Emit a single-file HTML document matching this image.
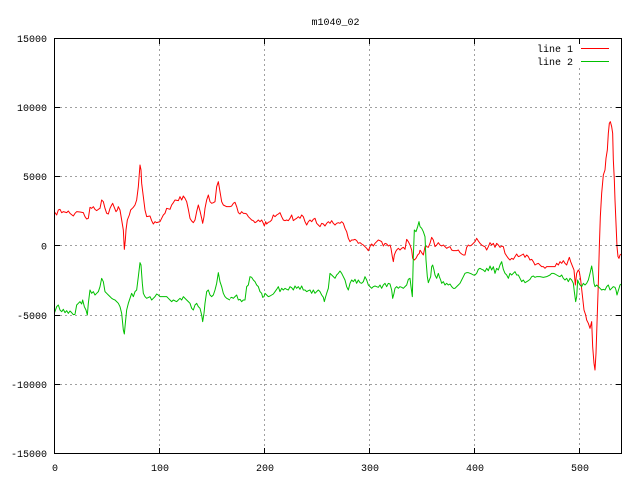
<!DOCTYPE html>
<html><head><meta charset="utf-8"><style>
html,body{margin:0;padding:0;background:#fff;}
svg{display:block;}
text{font-family:"Liberation Mono",monospace;font-size:10px;fill:#000;}
</style></head><body>
<svg width="640" height="480" viewBox="0 0 640 480" xmlns="http://www.w3.org/2000/svg">
<rect x="0" y="0" width="640" height="480" fill="#fff"/>
<text x="335.5" y="25" text-anchor="middle">m1040_02</text>
<!-- grid -->
<g stroke="#a0a0a0" stroke-width="1" stroke-dasharray="2,3" fill="none">
<line x1="159.5" y1="39" x2="159.5" y2="453"/>
<line x1="264.5" y1="39" x2="264.5" y2="453"/>
<line x1="369.5" y1="39" x2="369.5" y2="453"/>
<line x1="474.5" y1="39" x2="474.5" y2="453"/>
<line x1="579.5" y1="68" x2="579.5" y2="453"/>
<line x1="55" y1="107.5" x2="621" y2="107.5"/>
<line x1="55" y1="176.5" x2="621" y2="176.5"/>
<line x1="55" y1="245.5" x2="621" y2="245.5"/>
<line x1="55" y1="315.5" x2="621" y2="315.5"/>
<line x1="55" y1="384.5" x2="621" y2="384.5"/>
</g>
<!-- series -->
<g fill="none" stroke-width="1" stroke-linejoin="round">
<g transform="translate(40,150) scale(0.33333)">
<polyline vector-effect="non-scaling-stroke" stroke="#ff0000" points="43,185 50,195 55,180 60,178 65,188 70,185 80,188 85,183 90,190 100,198 105,190 110,185 120,186 130,188 135,200 140,207 145,205 150,172 155,175 160,170 165,178 170,182 175,178 180,175 185,150 190,155 195,175 200,190 205,192 210,175 215,165 218,160 222,170 228,185 232,180 235,170 240,180 245,210 250,240 253,298 256,270 258,240 262,210 268,195 272,180 280,172 285,165 290,150 295,110 300,45 303,60 305,100 310,140 315,180 320,200 330,198 335,212 340,222 345,215 350,218 360,215 365,205 370,195 375,190 380,175 390,178 395,165 400,158 405,150 415,152 420,140 425,150 430,138 435,145 440,155 445,178 450,205 455,213 460,218 465,210 470,185 475,165 480,183 485,205 488,220 492,200 495,175 500,150 505,135 510,155 515,160 520,158 525,155 530,110 535,95 540,125 545,155 550,165 560,170 570,170"/>
<polyline vector-effect="non-scaling-stroke" stroke="#00c000" points="43,490 50,470 55,465 60,480 65,485 70,478 75,488 80,482 85,490 90,483 95,488 100,494 105,493 110,465 115,460 120,455 125,462 128,450 133,470 138,480 142,495 145,460 150,420 155,430 160,425 165,435 170,430 175,425 180,410 185,385 190,395 195,425 200,430 205,435 210,440 215,445 220,448 225,450 230,455 235,460 240,470 245,490 250,540 253,552 256,520 260,480 265,460 270,445 275,430 280,440 285,425 290,420 295,380 300,338 303,345 307,400 310,430 315,440 320,445 330,440 335,450 340,445 345,440 350,432 355,435 360,440 370,440 380,440 385,445 390,450 395,455 400,450 410,455 420,445 425,450 430,440 440,450 445,455 450,460 455,475 460,480 465,465 470,460 475,470 480,475 485,495 488,515 492,490 495,460 500,425 505,420 510,435 515,440 520,435 525,420 530,400 535,368 540,395 545,410 550,430 555,440 560,445 570,450"/>
</g>
<g transform="translate(230,190) scale(0.33333)">
<polyline vector-effect="non-scaling-stroke" stroke="#ff0000" points="0,50 5,48 10,40 15,37 20,50 25,68 30,72 35,65 40,70 45,70 50,72 55,80 60,85 65,90 70,92 75,98 80,95 85,90 90,95 95,90 100,100 103,108 107,95 110,102 115,97 120,95 125,90 130,75 135,80 140,75 145,72 150,68 155,80 160,90 165,92 170,90 175,92 180,85 185,75 190,92 195,88 200,85 205,80 210,85 215,75 220,80 225,95 230,105 235,95 240,90 245,95 250,88 255,85 260,100 265,105 270,110 275,100 280,102 285,108 290,100 295,95 300,100 305,92 310,100 315,105 320,100 325,98 330,100 335,95 340,100 345,115 350,125 355,145 360,155 365,150 370,150 375,148 380,152 385,160 390,158 395,162 400,165 405,170 410,175 415,182 418,175 422,165 425,162 430,168 435,160 440,155 445,150 450,152 455,155 460,168 465,160 470,162 475,168 480,165 483,175 487,200 490,215 493,195 497,185 500,180 505,175 510,180 515,175 520,172 525,178 530,148 535,155 540,165 545,180 548,205 553,210 558,205 563,195 568,190 570,180"/>
<polyline vector-effect="non-scaling-stroke" stroke="#00c000" points="0,325 5,322 10,325 15,320 20,315 25,330 30,328 35,335 40,330 45,330 50,290 55,285 60,260 65,262 70,270 75,275 80,285 85,290 90,305 95,310 98,322 102,320 105,310 110,315 115,320 120,318 125,315 130,312 135,305 140,298 145,290 150,305 155,295 160,300 165,295 170,298 175,300 180,290 185,293 190,300 195,288 200,295 205,290 210,298 215,288 220,300 225,300 230,305 235,302 240,300 245,310 250,300 255,310 260,305 265,300 270,305 275,315 280,322 283,335 287,320 290,310 295,295 300,250 305,255 310,260 315,265 320,255 325,250 330,243 335,250 340,260 345,270 350,290 355,300 360,280 365,270 370,275 375,268 380,280 385,270 390,278 395,280 400,275 405,260 410,270 415,285 420,290 425,295 430,290 435,288 440,290 445,292 450,285 455,295 460,285 465,280 470,290 475,280 480,282 485,300 488,325 492,310 495,295 500,290 505,295 510,290 515,292 520,295 525,290 530,285 535,268 540,265 543,290 547,320 550,200 553,120 558,125 563,110 567,95 570,110"/>
</g>
<g transform="translate(420,110) scale(0.33333)">
<polyline vector-effect="non-scaling-stroke" stroke="#ff0000" points="0,420 5,428 10,435 15,410 20,410 25,412 30,400 35,382 40,390 45,410 50,405 55,398 60,405 65,408 70,405 75,410 80,415 85,412 90,410 95,420 100,422 110,422 115,420 120,428 125,432 130,435 135,435 140,412 145,405 150,408 155,405 160,400 165,395 170,385 175,393 180,400 185,405 190,408 195,410 200,420 205,410 210,398 215,405 220,400 225,412 230,400 235,405 240,412 245,408 250,410 255,430 260,438 265,445 270,450 275,445 280,448 285,440 290,432 295,440 300,438 305,435 310,432 315,442 320,435 325,440 330,450 335,448 340,455 345,465 350,462 355,460 360,465 365,470 370,470 375,475 380,470 390,470 400,470 405,470 410,460 415,465 420,455 425,460 430,452 435,460 440,465 445,450 448,442 452,455 458,470 462,480 466,525 470,490 475,480 478,485 482,510 487,555 492,600 497,615 500,630 505,640 510,655 515,635 518,710 522,760 525,780 528,730 531,640 535,520 538,410 541,320 545,250 550,195 555,180 558,145 562,120 565,70 568,40 571,35 575,50 578,70 580,150 583,210 585,270 588,340 591,410 594,440 597,445 600,435 604,432"/>
<polyline vector-effect="non-scaling-stroke" stroke="#00c000" points="0,350 5,355 10,365 15,380 18,450 22,500 25,518 28,510 32,500 35,470 38,465 42,480 45,495 50,505 55,490 58,500 62,510 65,520 70,515 75,525 80,520 85,525 90,522 95,530 100,535 105,535 110,530 115,525 120,520 125,510 130,500 135,490 140,488 145,488 150,490 155,492 160,495 165,495 170,490 175,478 180,475 185,478 190,480 195,485 200,475 205,482 210,468 215,480 220,470 225,490 230,475 235,480 240,465 245,455 250,478 255,490 260,495 265,505 270,490 275,495 280,490 285,485 290,495 295,495 300,505 305,515 310,510 315,518 320,515 325,512 330,508 335,500 340,498 345,502 350,500 360,500 370,502 380,500 390,495 395,490 400,490 405,492 410,495 415,498 420,500 425,495 430,505 435,510 440,505 445,515 450,505 455,510 460,520 463,545 467,575 470,560 473,510 477,520 480,525 485,530 490,520 495,525 500,520 505,510 510,490 515,468 518,485 522,520 525,530 530,525 535,530 540,535 545,540 550,538 555,540 560,530 565,525 570,540 575,535 580,530 585,532 588,540 591,555 594,545 597,535 600,525 604,522"/>
</g>
</g>
<!-- border -->
<rect x="54.5" y="38.5" width="567" height="415" fill="none" stroke="#000" stroke-width="1"/>
<!-- ticks -->
<g stroke="#000" stroke-width="1">
<line x1="55" y1="107.5" x2="60" y2="107.5"/><line x1="621" y1="107.5" x2="616" y2="107.5"/>
<line x1="55" y1="176.5" x2="60" y2="176.5"/><line x1="621" y1="176.5" x2="616" y2="176.5"/>
<line x1="55" y1="245.5" x2="60" y2="245.5"/><line x1="621" y1="245.5" x2="616" y2="245.5"/>
<line x1="55" y1="315.5" x2="60" y2="315.5"/><line x1="621" y1="315.5" x2="616" y2="315.5"/>
<line x1="55" y1="384.5" x2="60" y2="384.5"/><line x1="621" y1="384.5" x2="616" y2="384.5"/>
<line x1="159.5" y1="453" x2="159.5" y2="448"/><line x1="159.5" y1="39" x2="159.5" y2="44"/>
<line x1="264.5" y1="453" x2="264.5" y2="448"/><line x1="264.5" y1="39" x2="264.5" y2="44"/>
<line x1="369.5" y1="453" x2="369.5" y2="448"/><line x1="369.5" y1="39" x2="369.5" y2="44"/>
<line x1="474.5" y1="453" x2="474.5" y2="448"/><line x1="474.5" y1="39" x2="474.5" y2="44"/>
<line x1="579.5" y1="453" x2="579.5" y2="448"/><line x1="579.5" y1="39" x2="579.5" y2="44"/>
</g>
<!-- y labels -->
<g text-anchor="end">
<text x="47" y="42">15000</text>
<text x="47" y="111">10000</text>
<text x="47" y="180">5000</text>
<text x="47" y="249.5">0</text>
<text x="47" y="319">-5000</text>
<text x="47" y="388">-10000</text>
<text x="47" y="457">-15000</text>
</g>
<!-- x labels -->
<g text-anchor="middle">
<text x="55" y="471">0</text>
<text x="160" y="471">100</text>
<text x="265" y="471">200</text>
<text x="370" y="471">300</text>
<text x="475" y="471">400</text>
<text x="580" y="471">500</text>
</g>
<!-- legend -->
<text x="573" y="52" text-anchor="end">line 1</text>
<text x="573" y="65" text-anchor="end">line 2</text>
<line x1="581" y1="48.5" x2="609" y2="48.5" stroke="#ff0000" stroke-width="1"/>
<line x1="581" y1="61.5" x2="609" y2="61.5" stroke="#00c000" stroke-width="1"/>
</svg>
</body></html>
